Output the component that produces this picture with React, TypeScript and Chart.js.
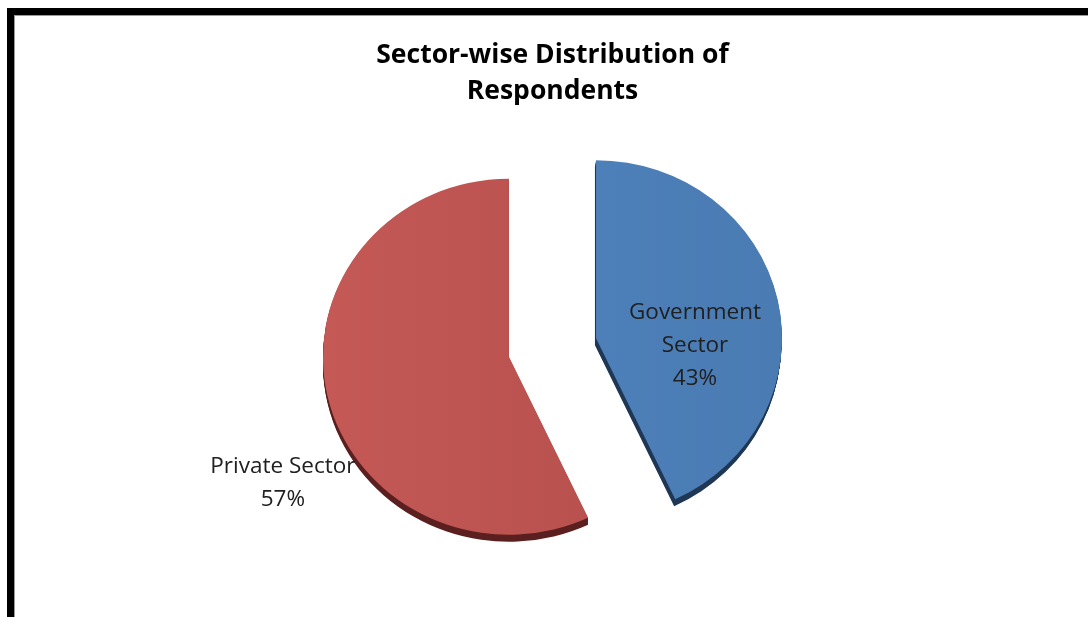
import React, { useEffect, useRef } from "react";
import { Chart, registerables, ArcElement } from "chart.js";

Chart.register(...registerables);

// ---------- data ----------
const CATEGORIES: string[] = ["Government Sector", "Private Sector"];
const SHARES: number[] = [43, 57];
const TITLE_LINES: string[] = ["Sector-wise Distribution of", "Respondents"];

// ---------- styling ----------
const SLICE_COLORS = [
  ["#5083BD", "#4A7BB3"],
  ["#C45956", "#B44E4B"],
];
const SIDE_COLORS = ["#1F3755", "#5A1F1E"];
const WRAP_LABEL = [true, false];
// label block center, relative to slice's own (exploded) center, in radius units
const LABEL_PLACE = [
  { dx: 0.556, dy: 0.04 },
  { dx: -1.27, dy: 0.71 },
];
const RADIUS = 178;
const X_STRETCH = 186 / 178;
const DEPTH = 7;
const EXPLODE_DIST = 42.7;
const LABEL_FONT = "'Open Sans', Lato, sans-serif";
const TITLE_FONT = "'Open Sans', Lato, sans-serif";

function labelLines(i: number): string[] {
  const name = CATEGORIES[i];
  const pct = `${SHARES[i]}%`;
  if (WRAP_LABEL[i]) return [...name.split(" "), pct];
  return [name, pct];
}

function sliceShift(arc: any) {
  const mid = (arc.startAngle + arc.endAngle) / 2;
  return { sx: Math.cos(mid) * EXPLODE_DIST, sy: Math.sin(mid) * EXPLODE_DIST };
}

const pie3dPlugin = {
  id: "pie3d",
  beforeDraw(chart: any) {
    const ctx = chart.ctx as CanvasRenderingContext2D;
    ctx.save();
    ctx.fillStyle = "#ffffff";
    ctx.fillRect(0, 0, chart.width, chart.height);
    ctx.fillStyle = "#000000";
    ctx.fillRect(7, 8, chart.width - 7, 7);
    ctx.fillRect(7, 8, 7, chart.height - 8);
    ctx.fillStyle = "#9a9a9a";
    ctx.fillRect(14, 15, chart.width - 14, 1);
    ctx.fillRect(14, 15, 1, chart.height - 15);
    ctx.restore();
  },
  beforeDatasetsDraw(chart: any) {
    const ctx = chart.ctx as CanvasRenderingContext2D;
    const meta = chart.getDatasetMeta(0);
    const first = meta.data[0];
    const cx = first.x;
    const cy = first.y;
    ctx.save();
    ctx.translate(cx, cy);
    ctx.scale(X_STRETCH, 1);
    ctx.translate(-cx, -cy);
    // extruded sides
    meta.data.forEach((arc: any, i: number) => {
      const { sx, sy } = sliceShift(arc);
      const side = new (ArcElement as any)({
        x: arc.x,
        y: arc.y,
        startAngle: arc.startAngle,
        endAngle: arc.endAngle,
        innerRadius: arc.innerRadius,
        outerRadius: arc.outerRadius,
        circumference: arc.circumference,
        options: { ...arc.options, backgroundColor: SIDE_COLORS[i], borderWidth: 0 },
      });
      for (let d = 1; d <= DEPTH; d++) {
        ctx.save();
        ctx.translate(sx - (i === 0 ? d * 0.15 : 0), sy + d);
        side.draw(ctx);
        ctx.restore();
      }
    });
    // top faces
    meta.data.forEach((arc: any) => {
      const { sx, sy } = sliceShift(arc);
      ctx.save();
      ctx.translate(sx, sy);
      arc.draw(ctx);
      ctx.restore();
    });
    ctx.restore();
    return false;
  },
  afterDraw(chart: any) {
    const ctx = chart.ctx as CanvasRenderingContext2D;
    const meta = chart.getDatasetMeta(0);
    ctx.save();
    ctx.fillStyle = "#202020";
    ctx.textAlign = "center";
    ctx.textBaseline = "middle";
    ctx.font = `22.5px ${LABEL_FONT}`;
    meta.data.forEach((arc: any, i: number) => {
      const { sx, sy } = sliceShift(arc);
      const vx = arc.x + sx * X_STRETCH;
      const vy = arc.y + sy;
      const r = arc.outerRadius;
      const ax = vx + LABEL_PLACE[i].dx * r;
      const ay = vy + LABEL_PLACE[i].dy * r;
      const lines = labelLines(i);
      const lh = 33;
      const y0 = ay - ((lines.length - 1) * lh) / 2;
      lines.forEach((t, k) => ctx.fillText(t, ax, y0 + k * lh));
    });
    // title
    const tx = (chart.chartArea.left + chart.chartArea.right) / 2;
    ctx.fillStyle = "#000000";
    ctx.textBaseline = "alphabetic";
    ctx.font = `bold 26.5px ${TITLE_FONT}`;
    ctx.fillText(TITLE_LINES[0], tx, 63);
    ctx.fillText(TITLE_LINES[1], tx, 99);
    ctx.restore();
  },
};

export default function App() {
  const ref = useRef<HTMLCanvasElement | null>(null);
  useEffect(() => {
    if (!ref.current) return;
    const chart = new Chart(ref.current, {
      type: "pie",
      data: {
        labels: CATEGORIES,
        datasets: [
          {
            data: SHARES,
            backgroundColor: (c: any) => {
              const ch = c.chart;
              const i = c.dataIndex ?? 0;
              const area = ch.chartArea;
              if (!area) return SLICE_COLORS[i][0];
              const cx = (area.left + area.right) / 2;
              const g = ch.ctx.createLinearGradient(cx - RADIUS, 0, cx + RADIUS, 0);
              g.addColorStop(0, SLICE_COLORS[i][0]);
              g.addColorStop(1, SLICE_COLORS[i][1]);
              return g;
            },
            borderWidth: 0,
            offset: 0,
          },
        ],
      },
      options: {
        responsive: false,
        animation: false,
        radius: RADIUS,
        layout: { padding: { left: 17, right: 0, top: 78, bottom: 0 } },
        plugins: {
          legend: { display: false },
          tooltip: { enabled: false },
          title: { display: false },
        },
        events: [],
      } as any,
      plugins: [pie3dPlugin],
    });
    return () => chart.destroy();
  }, []);
  return (
    <div style={{ position: "absolute", left: 0, top: 0, width: 1088, height: 617 }}>
      <canvas ref={ref} width={1088} height={617} style={{ display: "block" }} />
    </div>
  );
}
